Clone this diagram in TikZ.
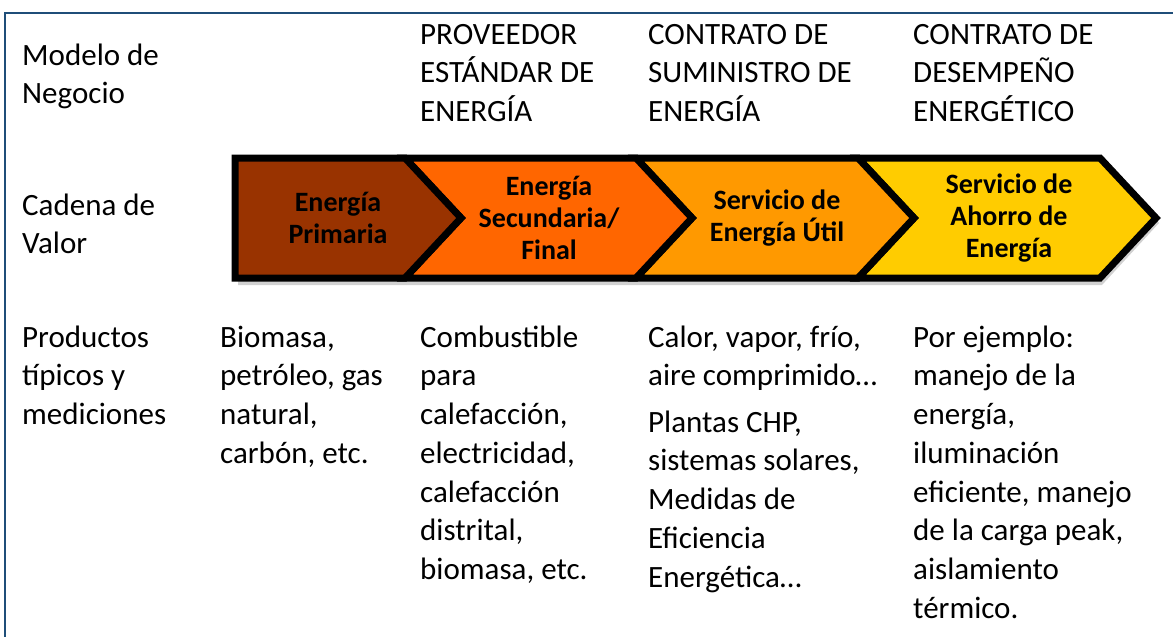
\documentclass[tikz,border=0pt]{standalone}
\usepackage{fontspec}
\setmainfont{Carlito}
\usetikzlibrary{positioning}

\definecolor{framecol}{RGB}{31,78,121}
\definecolor{primcol}{RGB}{153,51,0}
\definecolor{seccol}{RGB}{255,102,0}
\definecolor{utilcol}{RGB}{255,153,0}
\definecolor{ahorrocol}{RGB}{255,204,0}

\tikzset{
  celltext/.style={anchor=north west, inner sep=0pt, align=left,
    font=\fontsize{31}{38.7}\selectfont},
  chevlabel/.style={align=center, inner sep=0pt,
    font=\fontsize{28}{32}\selectfont\bfseries},
  chev/.style={draw=black, line width=7pt, line join=miter},
}

\begin{document}
\begin{tikzpicture}[x=1pt, y=-1pt]
  \useasboundingbox (0,0) rectangle (1173,637);

  % Frame
  \draw[framecol, line width=2.5pt] (1173,13) -- (5,13) -- (5,637);

  % Shadow under the value chain
  \fill[black, opacity=0.18] (238,163) -- (1102,163) -- (1159,223)
    -- (1102,285) -- (238,285) -- cycle;

  % Value chain chevrons
  \filldraw[chev, fill=ahorrocol] (858,158) -- (1100,158) -- (1156,218)
    -- (1100,278) -- (858,278) -- (914,218) -- cycle;
  \filldraw[chev, fill=utilcol] (636,158) -- (858,158) -- (914,218)
    -- (858,278) -- (636,278) -- (692,218) -- cycle;
  \filldraw[chev, fill=seccol] (405,158) -- (636,158) -- (692,218)
    -- (636,278) -- (405,278) -- (461,218) -- cycle;
  \filldraw[chev, fill=primcol] (235,158) -- (405,158) -- (461,218)
    -- (405,278) -- (235,278) -- cycle;

  % Chevron labels
  \node[chevlabel] (prim) at (338,218) {Energía\\Primaria};
  \node[chevlabel] (sec) at (549,218) {Energía\\Secundaria/\\Final};
  \node[chevlabel] (util) at (777,218) {Servicio de\\Energía Útil};
  \node[chevlabel] (ahorro) at (1009,218) {Servicio de\\Ahorro de\\Energía};

  % Row headings
  \node[celltext] (modelo) at (22,38) {\strut Modelo de\\Negocio};
  \node[celltext] (cadena) at (22,188) {\strut Cadena de\\Valor};
  \node[celltext] (productos) at (22,320) {\strut Productos\\típicos y\\mediciones};

  % Business models
  \node[celltext] (proveedor) at (420,17) {\strut PROVEEDOR\\ESTÁNDAR DE\\ENERGÍA};
  \node[celltext] (suministro) at (648,17) {\strut CONTRATO DE\\SUMINISTRO DE\\ENERGÍA};
  \node[celltext] (desempeno) at (913,17) {\strut CONTRATO DE\\DESEMPEÑO\\ENERGÉTICO};

  % Typical products
  \node[celltext] (biomasa) at (220,320) {\strut Biomasa,\\petróleo, gas\\natural,\\carbón, etc.};
  \node[celltext] (combustible) at (420,320) {\strut Combustible\\para\\calefacción,\\electricidad,\\calefacción\\distrital,\\biomasa, etc.};
  \node[celltext] (calor) at (648,320) {\strut Calor, vapor, frío,\\aire comprimido…};
  \node[celltext] (plantas) at (648,405) {\strut Plantas CHP,\\sistemas solares,\\Medidas de\\Eficiencia\\Energética…};
  \node[celltext] (ejemplo) at (913,320) {\strut Por ejemplo:\\manejo de la\\energía,\\iluminación\\eficiente, manejo\\de la carga peak,\\aislamiento\\térmico.};
\end{tikzpicture}
\end{document}
